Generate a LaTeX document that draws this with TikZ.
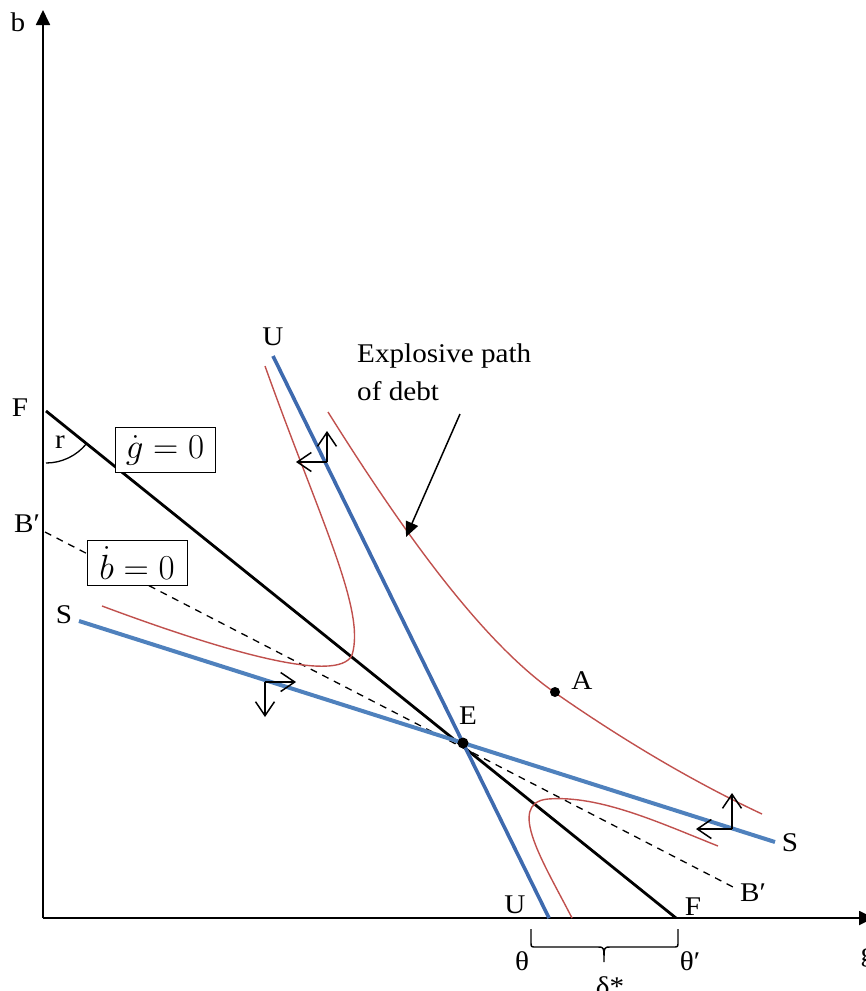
\documentclass[tikz,border=0pt]{standalone}
\usepackage{fix-cm}
\usepackage{fontspec}
\setmainfont{Liberation Serif}[FakeStretch=1.08]
\usetikzlibrary{arrows.meta, positioning, calc}

\definecolor{pathred}{RGB}{192,80,77}
\definecolor{stableblue}{RGB}{79,129,189}
\definecolor{unstableblue}{RGB}{62,106,174}

\begin{document}
\begin{tikzpicture}[
        x=1pt, y=-1pt,
        >=Stealth,
        axis/.style={-{Triangle[length=15pt, width=14pt]}, black, line width=1.8pt},
        fline/.style={black, line width=2.8pt},
        sline/.style={stableblue, line width=4pt},
        uline/.style={unstableblue, line width=3.6pt},
        bline/.style={black, line width=1.3pt, dash pattern=on 7pt off 6pt},
        trajectory/.style={pathred, line width=1.4pt},
        motion/.style={-{Straight Barb[length=14pt, width=19pt]}, black, line width=1.5pt},
        lbl/.style={font=\fontsize{27}{30}\selectfont, inner sep=0pt},
        eqbox/.style={draw, fill=white, line width=1pt, font=\fontsize{35}{38}\selectfont,
            minimum width=100pt, minimum height=45pt, inner sep=1pt},
        steady/.style={circle, fill=black, inner sep=0pt, minimum size=11pt}
    ]

    \useasboundingbox (0,0) rectangle (866,991);

    % axes
    \coordinate (O) at (43,918);
    \coordinate (bend) at (43,10);
    \coordinate (gend) at (874,918);
    \draw[axis] (O) -- (bend);
    \draw[axis] (O) -- (gend);
    \node[lbl] (blab) at (18,22) {b};
    \node[lbl] (glab) at (868,957) {g};

    % loci
    \coordinate (F1) at (46,411);
    \coordinate (F2) at (676,918);
    \coordinate (B1) at (45,532);
    \coordinate (B2) at (733,887);
    \coordinate (S1) at (79,621);
    \coordinate (S2) at (775,842);
    \coordinate (U1) at (273,356);
    \coordinate (U2) at (549,918);

    \draw[bline] (B1) -- (B2);
    \draw[fline] (F1) -- (F2);
    \draw[uline] (U1) -- (U2);
    \draw[sline] (S1) -- (S2);

    \draw[line width=1.3pt] ($(F1)+(0,52)$) arc[start angle=90, end angle=39, radius=52];
    \node[lbl] (rlab) at (60,442) {r};

    % paths
    \draw[trajectory] (265,366) .. controls (320,520) and (366,610) .. (352,655)
        .. controls (338,685) and (220,650) .. (102,606);
    \draw[trajectory] (572,918) .. controls (545,865) and (505,803) .. (548,799)
        .. controls (600,795) and (660,823) .. (718,846);
    \draw[trajectory] (328,412) .. controls (400,527) and (480,640) .. (554,692)
        .. controls (630,745) and (700,785) .. (762,814);

    % directions of motion
    \coordinate (m1) at (327,462);
    \draw[motion] (m1) -- ++(0,-31);
    \draw[motion] (m1) -- ++(-31,0);
    \coordinate (m2) at (265,682);
    \draw[motion] (m2) -- ++(31,0);
    \draw[motion] (m2) -- ++(0,35);
    \coordinate (m3) at (732,829);
    \draw[motion] (m3) -- ++(0,-36);
    \draw[motion] (m3) -- ++(-36,0);

    \node[eqbox] (gdot) at (165,450) {$\dot g = 0$};
    \node[eqbox] (bdot) at (137,563) {$\dot b = 0$};

    \node[steady] (E) at (463,743) {};
    \node[lbl] (Elab) at (468,716) {E};
    \node[steady, minimum size=10pt] (A) at (555,692) {};
    \node[lbl] (Alab) at (582,681) {A};

    \node[lbl, anchor=base west] (expl1) at (357,362) {Explosive path};
    \node[lbl, anchor=base west] (expl2) at (357,400) {of debt};
    \coordinate (arrtail) at (460,414);
    \coordinate (arrtip) at (406,537);
    \draw[-{Triangle[length=15pt, width=13pt]}, line width=1.5pt] (arrtail) -- (arrtip);

    \node[lbl] (Ftop) at (20,408) {F};
    \node[lbl] (Bleft) at (27,524) {B′};
    \node[lbl] (Sleft) at (64,615) {S};
    \node[lbl] (Utop) at (273,337) {U};
    \node[lbl] (Ubot) at (515,905) {U};
    \node[lbl] (Fbot) at (693,907) {F};
    \node[lbl] (Sright) at (790,843) {S};
    \node[lbl] (Bright) at (753,893) {B′};

    % gap between the two thresholds
    \coordinate (th) at (531,929);
    \coordinate (thp) at (678,929);
    \draw[line width=1.4pt] (th) -- ++(0,13) .. controls ++(0,5) .. ++(5,5) -- (598,947)
        .. controls (604,947) .. (604,962) .. controls (604,947) .. (610,947)
        -- ($(thp)+(-5,18)$) .. controls ($(thp)+(0,18)$) .. ($(thp)+(0,13)$) -- (thp);
    \node[lbl] (thlab) at (522,961) {θ};
    \node[lbl] (thplab) at (690,961) {θ′};
    \node[lbl] (dlab) at (610,986) {δ*};

\end{tikzpicture}
\end{document}
